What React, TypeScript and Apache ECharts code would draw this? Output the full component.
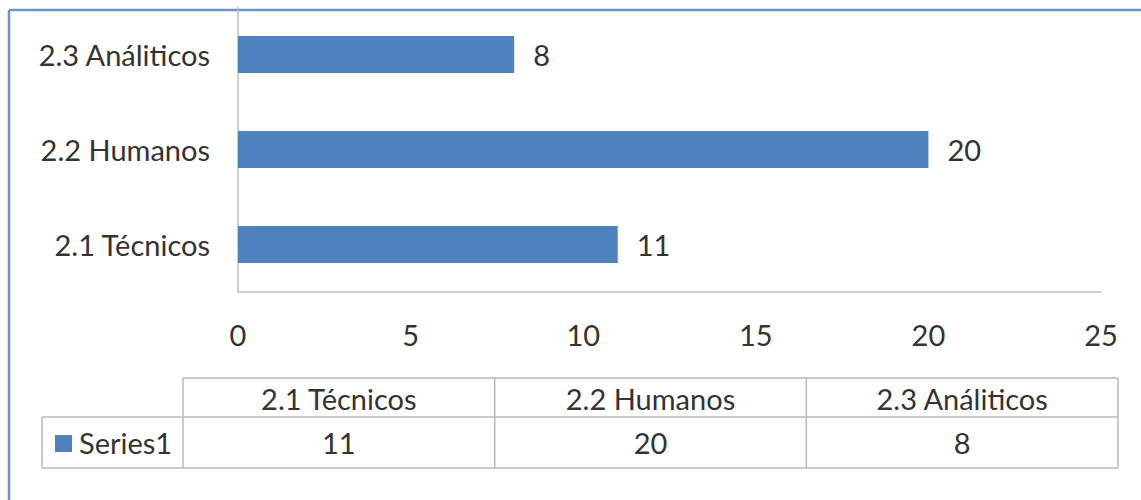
import React, { useEffect, useRef } from "react";
import * as echarts from "echarts";

const categories = ["2.1 Técnicos", "2.2 Humanos", "2.3 Análiticos"];
const values = [11, 20, 8];
const seriesName = "Series1";
const xTicks = [0, 5, 10, 15, 20, 25];

const FONT = "Lato, 'Open Sans', sans-serif";
const FS = 29;
const TEXT = "#333333";
const GRIDLINE = "#bfbfbf";
const BAR = "#4f81bd";

export default function App() {
  const ref = useRef<HTMLDivElement>(null);
  useEffect(() => {
    if (!ref.current) return;
    const chart = echarts.init(ref.current, undefined, { renderer: "svg" });

    // table geometry
    const tLeft = 42;
    const legendRight = 183;
    const tRight = 1118;
    const headTop = 378;
    const rowTop = 417;
    const rowBottom = 468;
    const colW = (tRight - legendRight) / categories.length;
    const lineStyle = { stroke: "#b8b8b8", lineWidth: 1.5 };
    const graphics: any[] = [];
    graphics.push({ type: "line", shape: { x1: legendRight, y1: headTop, x2: tRight, y2: headTop }, style: lineStyle });
    graphics.push({ type: "line", shape: { x1: tLeft, y1: rowTop, x2: tRight, y2: rowTop }, style: lineStyle });
    graphics.push({ type: "line", shape: { x1: tLeft, y1: rowBottom, x2: tRight, y2: rowBottom }, style: lineStyle });
    graphics.push({ type: "line", shape: { x1: tLeft, y1: rowTop, x2: tLeft, y2: rowBottom }, style: lineStyle });
    for (let i = 0; i <= categories.length; i++) {
      const x = legendRight + colW * i;
      graphics.push({ type: "line", shape: { x1: x, y1: headTop, x2: x, y2: rowBottom }, style: lineStyle });
    }
    categories.forEach((c, i) => {
      const cx = legendRight + colW * (i + 0.5);
      graphics.push({
        type: "text", x: cx, y: (headTop + rowTop) / 2 + 1,
        style: { text: c, fill: TEXT, font: `${FS}px ${FONT}`, textAlign: "center", textVerticalAlign: "middle" },
      });
      graphics.push({
        type: "text", x: cx, y: (rowTop + rowBottom) / 2,
        style: { text: String(values[i]), fill: TEXT, font: `${FS}px ${FONT}`, textAlign: "center", textVerticalAlign: "middle" },
      });
    });
    graphics.push({ type: "rect", shape: { x: 55, y: 435, width: 17, height: 17 }, style: { fill: BAR } });
    graphics.push({
      type: "text", x: 79, y: (rowTop + rowBottom) / 2,
      style: { text: seriesName, fill: TEXT, font: `${FS}px ${FONT}`, textAlign: "left", textVerticalAlign: "middle" },
    });
    // outer border (top & left)
    graphics.push({ type: "line", shape: { x1: 9, y1: 10, x2: 1141, y2: 10 }, style: { stroke: "#6f93c8", lineWidth: 2.5 } });
    graphics.push({ type: "line", shape: { x1: 9, y1: 10, x2: 9, y2: 500 }, style: { stroke: "#6f93c8", lineWidth: 2.5 } });

    chart.setOption({
      animation: false,
      backgroundColor: "#ffffff",
      grid: { left: 238, right: 40, top: 7, bottom: 208, containLabel: false },
      xAxis: {
        type: "value",
        min: 0,
        max: 25,
        interval: 5,
        axisLine: { show: true, lineStyle: { color: GRIDLINE, width: 1.5 } },
        axisTick: { show: false },
        splitLine: { show: false },
        axisLabel: {
          color: TEXT, fontSize: FS, fontFamily: FONT, margin: 28,
          formatter: (v: number) => (xTicks.includes(v) ? String(v) : ""),
        },
      },
      yAxis: {
        type: "category",
        data: categories,
        axisLine: { show: true, lineStyle: { color: GRIDLINE, width: 1.5 } },
        axisTick: { show: false },
        axisLabel: { color: TEXT, fontSize: FS, fontFamily: FONT, margin: 28 },
      },
      series: [
        {
          name: seriesName,
          type: "bar",
          data: values,
          barWidth: 37,
          itemStyle: { color: BAR },
          label: {
            show: true, position: "right", distance: 19,
            color: TEXT, fontSize: FS, fontFamily: FONT,
          },
        },
      ],
      graphic: graphics,
    });
    return () => chart.dispose();
  }, []);
  return (
    <div
      ref={ref}
      style={{ position: "fixed", left: 0, top: 0, width: 1141, height: 500, background: "#fff" }}
    />
  );
}
